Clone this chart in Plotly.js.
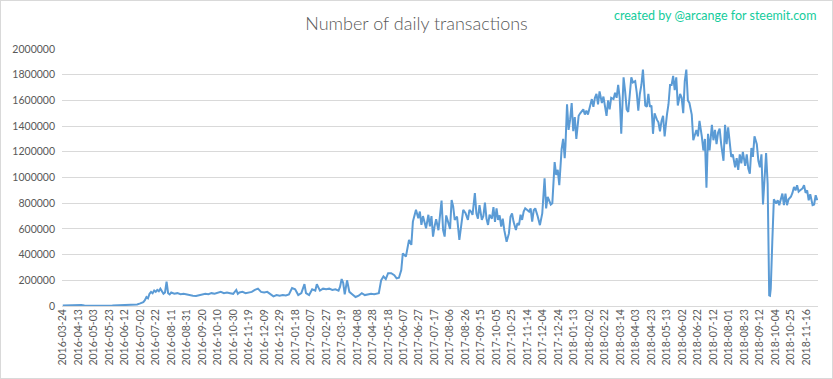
<!DOCTYPE html>
<html>
<head>
<meta charset="utf-8">
<script src="https://cdn.plot.ly/plotly-3.0.1.min.js"></script>
<style>
html,body{margin:0;padding:0;background:#fff;}
#chart{width:831px;height:377px;border:1px solid #d9d9d9;}
</style>
</head>
<body>
<div id="chart"></div>
<script>
// Category tick labels (one every 20 days on the category axis)
const tickLabels = ["2016-03-24","2016-04-13","2016-05-03","2016-05-23","2016-06-12","2016-07-02","2016-07-22","2016-08-11","2016-08-31","2016-09-20","2016-10-10","2016-10-30","2016-11-19","2016-12-09","2016-12-29","2017-01-18","2017-02-07","2017-02-27","2017-03-19","2017-04-08","2017-04-28","2017-05-18","2017-06-07","2017-06-27","2017-07-17","2017-08-06","2017-08-26","2017-09-15","2017-10-05","2017-10-25","2017-11-14","2017-12-04","2017-12-24","2018-01-13","2018-02-02","2018-02-22","2018-03-14","2018-04-03","2018-04-23","2018-05-13","2018-06-02","2018-06-22","2018-07-12","2018-08-01","2018-08-23","2018-09-12","2018-10-04","2018-10-25","2018-11-16"];
const tickPositions = tickLabels.map((_, i) => i * 20);

// Day index on the category axis (0 = 2016-03-24)
const dayIndex = [0,4,8,12,16,20,24,28,32,40,48,56,64,72,80,84,88,92,96,100,104,106,108,110,112,114,116,118,120,122,124,126,128,130,132,134,136,138,140,144,148,152,156,160,164,168,172,176,180,184,188,192,196,200,204,208,212,216,220,224,226,228,232,236,240,
244,248,252,256,260,264,268,272,276,280,284,288,292,296,300,304,308,312,314,318,322,326,328,332,336,340,344,348,352,356,358,360,362,364,367,370,374,378,382,386,390,394,398,402,406,408,411,414,417,420,
424,428,431,434,437,439,443,447,450,452,456,459,461,463,465,469,472,474,476,478,480,482,485,487,489,491,493,495,497,500,502,504,506,509,512,514,517,520,523,525,527,529,532,534,536,538,541,543,545,547,549,551,554,556,558,560,562,564,566,568,570,573,576,578,580,582,585,587,589,591,593,595,597,600,602,604,606,608,610,613,616,619,622,624,626,630,632,635,637,639,641,644,646,648,649,651,653,655,657,659,661,663,666,668,
672,674,676,678,681,683,685,687,689,691,693,696,698,700,702,704,706,708,711,713,715,717,719,721,724,726,728,730,732,734,736,739,741,743,745,747,749,752,754,756,758,760,762,764,767,769,771,773,775,777,780,782,784,786,788,790,792,794,797,799,801,803,805,807,809,812,814,816,818,820,822,825,827,829,831,833,835,838,840,842,844,846,848,850,853,855,857,859,861,863,865,868,870,872,874,876,878,881,883,885,887,889,891,893,896,898,900,902,904,906,908,910,911,912,913,914,916,918,
921,923,925,927,929,931,933,935,937,940,942,944,946,948,950,952,955,957,959,961,963,965,968,970,972,974];

const transactions = [3000,4000,6000,9000,11000,10000,7000,4000,3000,2500,2000,2500,3000,4000,6000,9000,7000,10000,12000,20000,30000,45000,70000,60000,95000,110000,100000,120000,110000,125000,115000,135000,110000,95000,105000,190000,100000,90000,105000,95000,100000,92000,95000,88000,85000,80000,78000,82000,90000,95000,92000,100000,95000,105000,110000,100000,105000,100000,95000,125000,95000,105000,110000,100000,105000,
110000,125000,135000,110000,105000,110000,95000,75000,85000,80000,85000,82000,90000,140000,130000,85000,100000,170000,100000,85000,130000,120000,170000,120000,135000,130000,135000,125000,130000,120000,150000,210000,180000,90000,200000,110000,90000,70000,80000,100000,85000,90000,95000,92000,95000,100000,200000,230000,210000,255000,
255000,240000,215000,220000,280000,410000,385000,515000,475000,657000,748000,683000,735000,631000,700000,605000,710000,620000,700000,540000,620000,675000,590000,700000,820000,590000,540000,705000,655000,600000,825000,775000,670000,695000,514000,618000,748000,722000,670000,748000,735000,710000,878000,720000,680000,785000,670000,700000,805000,680000,631000,710000,680000,770000,655000,760000,670000,705000,618000,680000,590000,500000,565000,695000,720000,655000,592000,645000,630000,710000,670000,735000,760000,745000,735000,760000,657000,745000,760000,700000,629000,720000,993000,760000,850000,790000,800000,1120000,1020000,1060000,940000,1220000,1300000,1150000,1250000,1570000,1370000,1450000,1580000,1360000,1470000,1300000,1480000,1500000,
1530000,1490000,1520000,1490000,1570000,1610000,1550000,1620000,1650000,1570000,1670000,1580000,1630000,1560000,1480000,1600000,1530000,1620000,1610000,1660000,1620000,1720000,1620000,1340000,1780000,1670000,1530000,1510000,1620000,1780000,1740000,1750000,1660000,1520000,1650000,1720000,1840000,1560000,1550000,1650000,1550000,1560000,1340000,1500000,1450000,1430000,1360000,1440000,1480000,1320000,1490000,1570000,1720000,1720000,1790000,1680000,1780000,1560000,1650000,1620000,1500000,1750000,1840000,1600000,1580000,1490000,1290000,1330000,1370000,1320000,1440000,1320000,1210000,1300000,920000,1340000,1210000,1410000,1290000,1370000,1260000,1350000,1380000,1260000,1130000,1410000,1260000,1390000,1290000,1160000,1180000,1080000,1150000,1060000,1180000,1110000,1200000,1090000,1180000,1070000,1030000,1230000,1160000,1320000,1260000,1130000,1080000,1180000,790000,1000000,1190000,950000,500000,83000,80000,135000,500000,830000,
798000,823000,785000,830000,875000,785000,875000,785000,830000,850000,880000,927000,900000,940000,890000,900000,915000,940000,880000,900000,823000,870000,785000,790000,862000,823000];

const trace = {
  x: dayIndex,
  y: transactions,
  type: 'scatter',
  mode: 'lines',
  line: {color: '#5b9bd5', width: 2},
  hoverinfo: 'skip'
};

const font = 'Lato, "Open Sans", sans-serif';
const layout = {
  width: 831, height: 377,
  margin: {l: 61, r: 14, t: 48, b: 72},
  paper_bgcolor: '#ffffff',
  plot_bgcolor: '#ffffff',
  showlegend: false,
  title: {
    text: 'Number of daily transactions',
    x: 0.5, xref: 'container', xanchor: 'center',
    y: 0.94, yref: 'container', yanchor: 'middle',
    font: {family: font, size: 18, color: '#595959', weight: 300}
  },
  annotations: [{
    text: 'created by @arcange for steemit.com',
    xref: 'paper', yref: 'paper',
    x: 1.0, y: 1.132, xanchor: 'right', yanchor: 'middle',
    showarrow: false,
    font: {family: font, size: 12.5, color: '#14cc9c'}
  }],
  xaxis: {
    range: [-1, 975],
    tickmode: 'array',
    tickvals: tickPositions,
    ticktext: tickLabels,
    tickangle: -90,
    tickfont: {family: font, size: 10.5, color: '#595959'},
    showgrid: false,
    zeroline: false,
    showline: false,
    ticks: '',
    fixedrange: true
  },
  yaxis: {
    range: [0, 2000000],
    tickmode: 'array',
    tickvals: [0,200000,400000,600000,800000,1000000,1200000,1400000,1600000,1800000,2000000],
    ticktext: ['0','200000','400000','600000','800000','1000000','1200000','1400000','1600000','1800000','2000000'],
    tickfont: {family: font, size: 10.5, color: '#595959'},
    showgrid: true,
    gridcolor: '#d9d9d9',
    gridwidth: 1,
    zeroline: true,
    zerolinecolor: '#d9d9d9',
    zerolinewidth: 1,
    ticks: '',
    ticklabelstandoff: 6,
    fixedrange: true
  }
};

Plotly.newPlot('chart', [trace], layout, {displayModeBar: false, staticPlot: true});
</script>
</body>
</html>
